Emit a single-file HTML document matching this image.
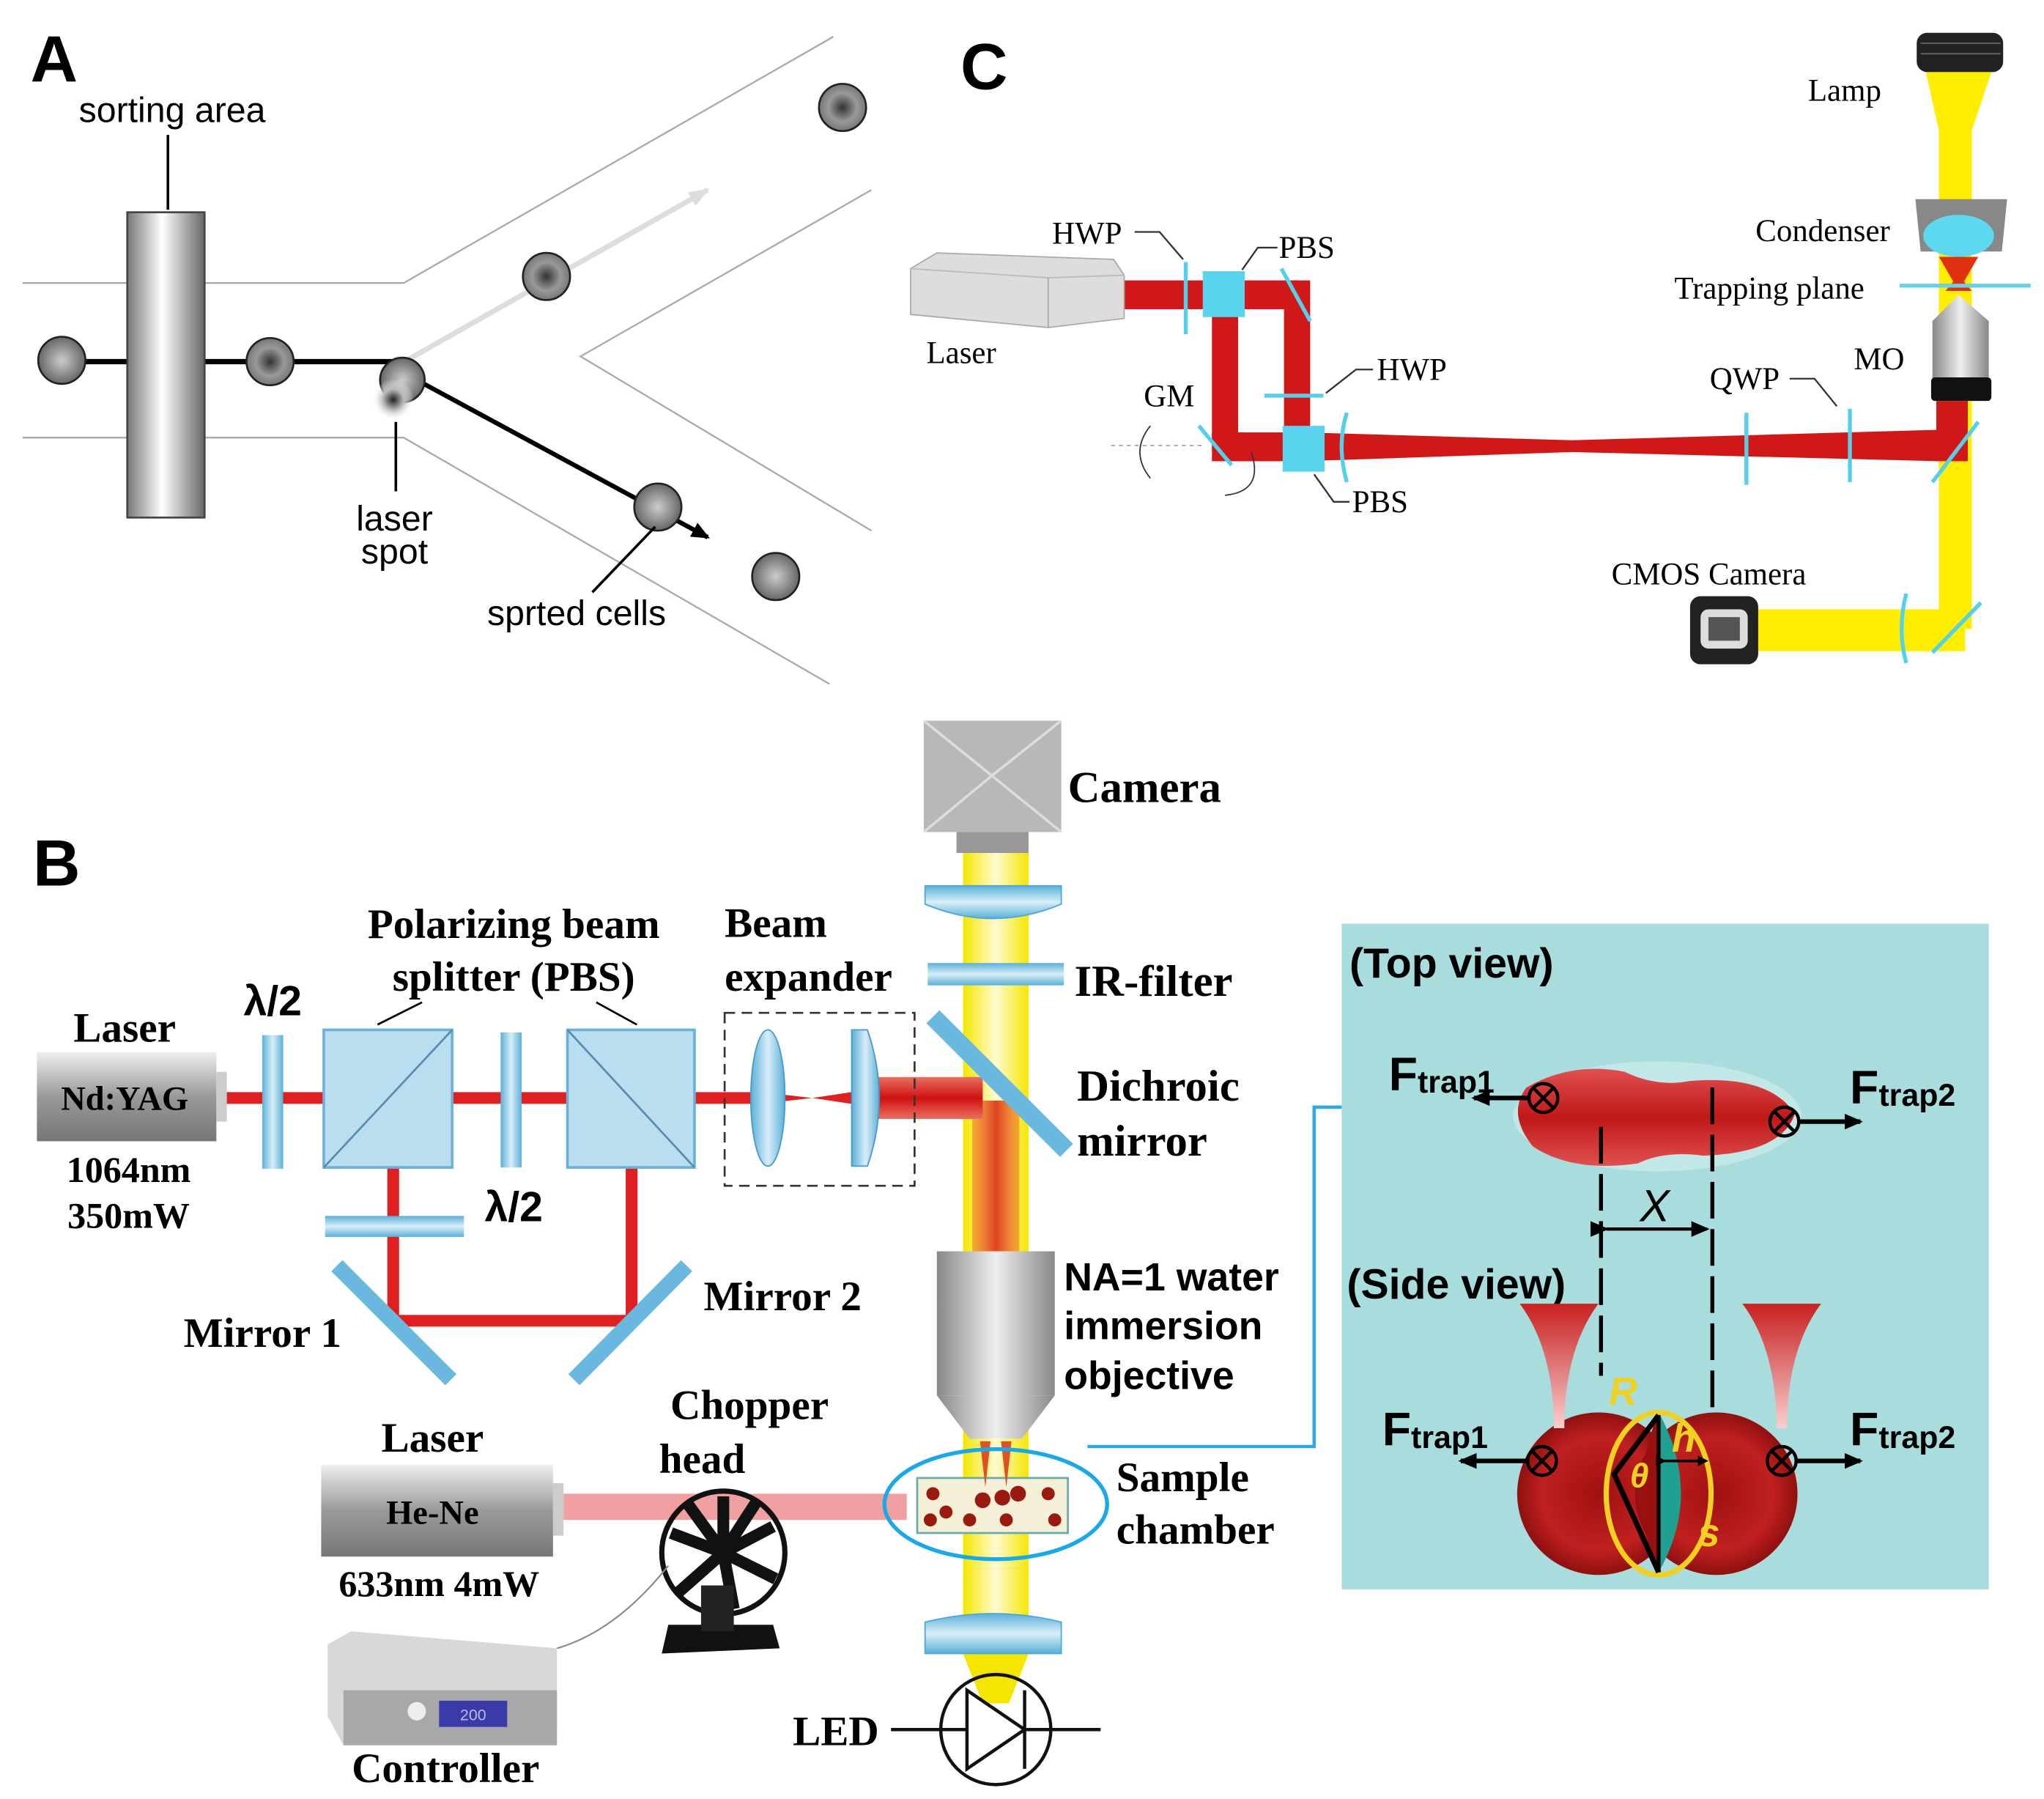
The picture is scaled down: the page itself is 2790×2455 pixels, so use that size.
<!DOCTYPE html>
<html><head><meta charset="utf-8"><style>
html,body{margin:0;padding:0;background:#fff}
svg{display:block}
.sa{font-family:"Liberation Sans",sans-serif}
.sf{font-family:"Liberation Serif",serif}
</style></head><body>
<svg width="2790" height="2455" viewBox="0 0 1560 1373" xmlns="http://www.w3.org/2000/svg">
<defs>
<linearGradient id="cyl" x1="0" x2="1"><stop offset="0" stop-color="#777"/><stop offset="0.45" stop-color="#fff"/><stop offset="1" stop-color="#666"/></linearGradient>
<radialGradient id="cell"><stop offset="0" stop-color="#333"/><stop offset="0.6" stop-color="#999"/><stop offset="1" stop-color="#777"/></radialGradient>
<radialGradient id="cell2"><stop offset="0" stop-color="#ccc"/><stop offset="1" stop-color="#666"/></radialGradient>
<radialGradient id="spot"><stop offset="0" stop-color="#222"/><stop offset="0.5" stop-color="#bbb"/><stop offset="1" stop-color="#fff" stop-opacity="0"/></radialGradient>
<linearGradient id="gbox" x1="0" y1="0" x2="0" y2="1"><stop offset="0" stop-color="#eee"/><stop offset="0.5" stop-color="#999"/><stop offset="1" stop-color="#777"/></linearGradient>
<linearGradient id="gobj" x1="0" x2="1"><stop offset="0" stop-color="#888"/><stop offset="0.5" stop-color="#eee"/><stop offset="1" stop-color="#888"/></linearGradient>
<linearGradient id="blu" x1="0" x2="1"><stop offset="0" stop-color="#5ab0d8"/><stop offset="0.5" stop-color="#d8eef8"/><stop offset="1" stop-color="#5ab0d8"/></linearGradient>
<linearGradient id="bluv" x1="0" y1="0" x2="0" y2="1"><stop offset="0" stop-color="#5ab0d8"/><stop offset="0.5" stop-color="#d8eef8"/><stop offset="1" stop-color="#5ab0d8"/></linearGradient>
<linearGradient id="yel" x1="0" x2="1"><stop offset="0" stop-color="#f5e600"/><stop offset="0.5" stop-color="#fffbd0"/><stop offset="1" stop-color="#f5e600"/></linearGradient>
<linearGradient id="org" x1="0" x2="1"><stop offset="0" stop-color="#f08020" stop-opacity=".6"/><stop offset="0.5" stop-color="#e04020"/><stop offset="1" stop-color="#f08020" stop-opacity=".6"/></linearGradient>
<linearGradient id="redh" x1="0" y1="0" x2="0" y2="1"><stop offset="0" stop-color="#e87060"/><stop offset="0.5" stop-color="#d01010"/><stop offset="1" stop-color="#e87060"/></linearGradient>
<linearGradient id="redc" x1="0" y1="0" x2="0" y2="1"><stop offset="0" stop-color="#e05050"/><stop offset="0.5" stop-color="#c01818"/><stop offset="1" stop-color="#e05050"/></linearGradient>
<linearGradient id="fun" x1="0" y1="0" x2="0" y2="1"><stop offset="0" stop-color="#c82020"/><stop offset="1" stop-color="#f8d0d0"/></linearGradient>
<radialGradient id="rbc"><stop offset="0" stop-color="#a01010"/><stop offset="0.7" stop-color="#c02020"/><stop offset="1" stop-color="#901010"/></radialGradient>
<marker id="ah" markerWidth="8" markerHeight="8" refX="6" refY="4" orient="auto" markerUnits="userSpaceOnUse"><path d="M0,0 L8,4 L0,8z" fill="#000"/></marker>
<marker id="ahb" markerWidth="14" markerHeight="12" refX="12" refY="6" orient="auto" markerUnits="userSpaceOnUse"><path d="M0,0 L14,6 L0,12z" fill="#000"/></marker>
<marker id="ahc" markerWidth="16" markerHeight="12" refX="14" refY="6" orient="auto" markerUnits="userSpaceOnUse"><path d="M0,0 L16,6 L0,12z" fill="#2aa8e8"/></marker>
<marker id="ahg" markerWidth="16" markerHeight="12" refX="14" refY="6" orient="auto" markerUnits="userSpaceOnUse"><path d="M0,0 L16,6 L0,12z" fill="#ddd"/></marker>
</defs>

<!-- ============ PANEL A ============ -->
<text x="23" y="62" class="sa" font-size="50" font-weight="bold">A</text>
<text x="60" y="93" class="sa" font-size="27">sorting area</text>
<line x1="128" y1="103" x2="128" y2="160" stroke="#000" stroke-width="2"/>
<g stroke="#aaa" stroke-width="1.3" fill="none">
<polyline points="17,216 308,216 636,28"/>
<polyline points="17,334 308,334 633,522"/>
<polyline points="665,145 443,272 665,405"/>
</g>
<line x1="305" y1="278" x2="540" y2="145" stroke="#ddd" stroke-width="4" marker-end="url(#ahg)"/>
<line x1="47" y1="276" x2="300" y2="276" stroke="#000" stroke-width="4"/>
<line x1="305" y1="283" x2="540" y2="410" stroke="#000" stroke-width="3.5" marker-end="url(#ahb)"/>
<rect x="97" y="162" width="59" height="233" fill="url(#cyl)" stroke="#444" stroke-width="1.5"/>
<circle cx="47" cy="275" r="18" fill="url(#cell2)" stroke="#222" stroke-width="1.5"/>
<circle cx="206" cy="276" r="18" fill="url(#cell)" stroke="#222" stroke-width="1.5"/>
<circle cx="417" cy="211" r="18" fill="url(#cell)" stroke="#222" stroke-width="1.5"/>
<circle cx="643" cy="82" r="18" fill="url(#cell)" stroke="#222" stroke-width="1.5"/>
<circle cx="502" cy="387" r="18" fill="url(#cell2)" stroke="#222" stroke-width="1.5"/>
<circle cx="592" cy="440" r="18" fill="url(#cell2)" stroke="#222" stroke-width="1.5"/>
<circle cx="307" cy="290" r="17" fill="url(#cell2)" stroke="#222" stroke-width="1.5"/>
<circle cx="300" cy="305" r="16" fill="url(#spot)"/>
<line x1="302" y1="322" x2="302" y2="375" stroke="#000" stroke-width="2"/>
<text x="301" y="405" class="sa" font-size="27" text-anchor="middle">laser</text>
<text x="301" y="430" class="sa" font-size="27" text-anchor="middle">spot</text>
<line x1="452" y1="452" x2="500" y2="402" stroke="#000" stroke-width="2"/>
<text x="440" y="477" class="sa" font-size="27" text-anchor="middle">sprted cells</text>

<!-- ============ PANEL C ============ -->
<text x="733" y="68" class="sa" font-size="50" font-weight="bold">C</text>
<rect x="1463" y="25" width="66" height="30" rx="8" fill="#222"/>
<line x1="1466" y1="33" x2="1527" y2="33" stroke="#666"/><line x1="1466" y1="41" x2="1527" y2="41" stroke="#666"/>
<path d="M1470,55 L1520,55 L1505,100 L1505,470 L1300,470 L1300,495 L1480,495 L1480,100 Z" fill="#ffee00"/>
<rect x="1480" y="60" width="25" height="420" fill="#ffee00"/>
<rect x="1300" y="465" width="200" height="32" fill="#ffee00"/>
<text x="1380" y="77" class="sf" font-size="24">Lamp</text>
<path d="M1462,152 L1532,152 L1528,192 L1466,192 Z" fill="#888"/>
<ellipse cx="1495" cy="180" rx="27" ry="16" fill="#5cd8f0"/>
<path d="M1480,196 L1510,196 L1495,222 Z" fill="#e03010"/>
<path d="M1485,222 L1505,222 L1495,210 Z" fill="#e03010"/>
<line x1="1450" y1="218" x2="1550" y2="218" stroke="#6ad0e8" stroke-width="3"/>
<text x="1340" y="184" class="sf" font-size="24">Condenser</text>
<text x="1278" y="228" class="sf" font-size="24">Trapping plane</text>
<path d="M1495,225 L1475,245 L1475,290 L1518,290 L1518,245 Z" fill="url(#gobj)"/>
<rect x="1474" y="288" width="46" height="18" rx="3" fill="#111"/>
<text x="1415" y="282" class="sf" font-size="24">MO</text>
<path d="M995,330 L1200,336 L1480,328 L1480,352 L1200,345 L995,352 Z" fill="#d01818"/>
<rect x="1478" y="306" width="24" height="46" fill="#d01818"/>
<rect x="850" y="214" width="140" height="22" fill="#d01818"/>
<rect x="980" y="214" width="20" height="130" fill="#d01818"/>
<rect x="925" y="230" width="20" height="112" fill="#d01818"/>
<rect x="925" y="330" width="70" height="22" fill="#d01818"/>
<path d="M695,205 L715,193 L850,198 L858,210 L858,243 L800,250 L695,240 Z" fill="#ddd" stroke="#aaa"/>
<path d="M695,205 L800,212 L858,210" fill="none" stroke="#bbb"/>
<line x1="800" y1="212" x2="800" y2="250" stroke="#aaa"/>
<text x="707" y="277" class="sf" font-size="24">Laser</text>
<g stroke="#55d0ea" stroke-width="3" fill="none">
<line x1="905" y1="200" x2="905" y2="255"/>
<line x1="978" y1="205" x2="1000" y2="245"/>
<line x1="965" y1="302" x2="1010" y2="302"/>
<path d="M1028,315 Q1020,340 1028,368"/>
<line x1="1333" y1="315" x2="1333" y2="370"/>
<line x1="1412" y1="312" x2="1412" y2="368"/>
<line x1="1475" y1="368" x2="1510" y2="322"/>
<line x1="1475" y1="498" x2="1512" y2="460"/>
<path d="M1455,453 Q1448,480 1455,506"/>
<line x1="915" y1="325" x2="940" y2="355"/>
</g>
<rect x="918" y="207" width="32" height="35" fill="#5ad4ee"/>
<rect x="979" y="325" width="32" height="35" fill="#5ad4ee"/>
<path d="M878,325 Q862,345 878,365" stroke="#333" fill="none"/>
<path d="M955,345 Q965,375 935,378" stroke="#333" fill="none"/>
<line x1="848" y1="340" x2="920" y2="340" stroke="#aaa" stroke-dasharray="3,3"/>
<g class="sf" font-size="24">
<text x="803" y="186">HWP</text>
<text x="976" y="197">PBS</text>
<text x="1051" y="290">HWP</text>
<text x="873" y="310">GM</text>
<text x="1032" y="391">PBS</text>
<text x="1305" y="297">QWP</text>
<text x="1230" y="446">CMOS Camera</text>
</g>
<g stroke="#333" stroke-width="1.3" fill="none">
<polyline points="866,177 885,177 903,198"/>
<polyline points="975,189 960,189 948,206"/>
<polyline points="1048,282 1035,282 1012,300"/>
<polyline points="1030,383 1018,383 1003,362"/>
<polyline points="1366,289 1385,289 1402,310"/>
</g>
<rect x="1290" y="455" width="52" height="52" rx="8" fill="#222"/>
<rect x="1298" y="465" width="36" height="30" rx="6" fill="#ddd"/>
<rect x="1304" y="471" width="24" height="18" fill="#555"/>

<!-- ============ PANEL B ============ -->
<text x="25" y="676" class="sa" font-size="50" font-weight="bold">B</text>
<rect x="735" y="640" width="50" height="610" fill="url(#yel)"/>
<path d="M735,1262 L785,1262 L770,1300 L750,1300 Z" fill="#f5e600"/>
<rect x="742" y="840" width="36" height="115" fill="url(#org)"/>
<rect x="705" y="550" width="105" height="85" fill="#b8b8b8"/>
<path d="M705,550 L757,592 L810,550 M705,635 L757,592 L810,635" stroke="#ddd" stroke-width="2" fill="none"/>
<rect x="730" y="635" width="55" height="16" fill="#999"/>
<text x="815" y="612" class="sf" font-size="34" font-weight="bold">Camera</text>
<path d="M706,676 L810,676 L810,690 Q758,712 706,690 Z" fill="url(#bluv)" stroke="#4aa8d8"/>
<rect x="708" y="735" width="104" height="17" fill="url(#bluv)"/>
<text x="820" y="760" class="sf" font-size="34" font-weight="bold">IR-filter</text>
<line x1="170" y1="838" x2="580" y2="838" stroke="#e02020" stroke-width="9"/>
<path d="M585,834 L620,838 L660,832 L660,844 L620,838 L585,842Z" fill="#e02020"/>
<rect x="660" y="822" width="90" height="32" fill="url(#redh)"/>
<line x1="712" y1="776" x2="814" y2="878" stroke="#6ab8e0" stroke-width="14"/>
<text x="822" y="840" class="sf" font-size="34" font-weight="bold">Dichroic</text>
<text x="822" y="882" class="sf" font-size="34" font-weight="bold">mirror</text>
<rect x="28" y="803" width="137" height="68" fill="url(#gbox)"/>
<rect x="165" y="818" width="8" height="38" fill="#ccc"/>
<text x="95" y="847" class="sf" font-size="26" font-weight="bold" text-anchor="middle">Nd:YAG</text>
<text x="95" y="795" class="sf" font-size="32" font-weight="bold" text-anchor="middle">Laser</text>
<text x="98" y="902" class="sf" font-size="28" font-weight="bold" text-anchor="middle">1064nm</text>
<text x="98" y="937" class="sf" font-size="28" font-weight="bold" text-anchor="middle">350mW</text>
<rect x="200" y="790" width="16" height="102" fill="url(#blu)"/>
<text x="208" y="775" class="sa" font-size="32" font-weight="bold" text-anchor="middle">λ/2</text>
<rect x="382" y="788" width="16" height="103" fill="url(#blu)"/>
<polyline points="300,890 300,1008 482,1008 482,890" fill="none" stroke="#e02020" stroke-width="9"/>
<rect x="247" y="786" width="98" height="105" fill="#b8def0" stroke="#6ab0d8" stroke-width="2"/>
<line x1="247" y1="891" x2="345" y2="786" stroke="#5a8ab0" stroke-width="1.5"/>
<rect x="433" y="786" width="97" height="105" fill="#b8def0" stroke="#6ab0d8" stroke-width="2"/>
<line x1="433" y1="786" x2="530" y2="891" stroke="#5a8ab0" stroke-width="1.5"/>
<text x="392" y="716" class="sf" font-size="32" font-weight="bold" text-anchor="middle">Polarizing beam</text>
<text x="392" y="756" class="sf" font-size="32" font-weight="bold" text-anchor="middle">splitter (PBS)</text>
<line x1="288" y1="782" x2="322" y2="765" stroke="#000" stroke-width="1.5"/>
<line x1="486" y1="782" x2="455" y2="765" stroke="#000" stroke-width="1.5"/>
<rect x="248" y="928" width="106" height="16" fill="url(#bluv)"/>
<text x="392" y="932" class="sa" font-size="32" font-weight="bold" text-anchor="middle">λ/2</text>
<line x1="257" y1="966" x2="344" y2="1053" stroke="#6ab8e0" stroke-width="12"/>
<line x1="524" y1="966" x2="438" y2="1053" stroke="#6ab8e0" stroke-width="12"/>
<text x="140" y="1028" class="sf" font-size="32" font-weight="bold">Mirror 1</text>
<text x="537" y="1000" class="sf" font-size="32" font-weight="bold">Mirror 2</text>
<rect x="553" y="773" width="145" height="132" fill="none" stroke="#333" stroke-width="1.5" stroke-dasharray="8,5"/>
<ellipse cx="586" cy="838" rx="13" ry="52" fill="url(#blu)" stroke="#4a98c8"/>
<path d="M650,786 L662,786 Q680,838 662,890 L650,890 Z" fill="url(#blu)" stroke="#4a98c8"/>
<text x="553" y="715" class="sf" font-size="32" font-weight="bold">Beam</text>
<text x="553" y="756" class="sf" font-size="32" font-weight="bold">expander</text>
<rect x="715" y="955" width="90" height="110" fill="url(#gobj)"/>
<path d="M715,1065 L805,1065 L780,1098 L740,1098 Z" fill="url(#gobj)"/>
<text x="812" y="985" class="sa" font-size="30" font-weight="bold">NA=1 water</text>
<text x="812" y="1022" class="sa" font-size="30" font-weight="bold">immersion</text>
<text x="812" y="1060" class="sa" font-size="30" font-weight="bold">objective</text>
<rect x="430" y="1140" width="262" height="20" fill="#f0a0a0"/>
<rect x="245" y="1118" width="177" height="70" fill="url(#gbox)"/>
<rect x="422" y="1132" width="8" height="40" fill="#ccc"/>
<text x="330" y="1108" class="sf" font-size="32" font-weight="bold" text-anchor="middle">Laser</text>
<text x="330" y="1163" class="sf" font-size="26" font-weight="bold" text-anchor="middle">He-Ne</text>
<text x="335" y="1218" class="sf" font-size="28" font-weight="bold" text-anchor="middle">633nm 4mW</text>
<rect x="700" y="1128" width="115" height="42" fill="#f4f0d8" stroke="#6aa" stroke-width="1.5"/>
<path d="M748,1100 L752,1135 L756,1100 M764,1100 L768,1135 L772,1100" fill="#e05020"/>
<g fill="#9a1a10">
<circle cx="712" cy="1140" r="5"/><circle cx="722" cy="1154" r="5"/><circle cx="710" cy="1160" r="5"/>
<circle cx="750" cy="1145" r="6"/><circle cx="765" cy="1143" r="6"/><circle cx="777" cy="1140" r="6"/>
<circle cx="740" cy="1160" r="5"/><circle cx="768" cy="1160" r="5"/><circle cx="800" cy="1140" r="5"/><circle cx="805" cy="1160" r="5"/>
</g>
<ellipse cx="760" cy="1148" rx="85" ry="42" fill="none" stroke="#1aa8e8" stroke-width="3"/>
<text x="852" y="1138" class="sf" font-size="32" font-weight="bold">Sample</text>
<text x="852" y="1178" class="sf" font-size="32" font-weight="bold">chamber</text>
<polyline points="830,1104 1003,1104 1003,845 1085,845" fill="none" stroke="#2aa8e8" stroke-width="2.5" marker-end="url(#ahc)"/>
<path d="M706,1238 Q758,1225 810,1238 L810,1262 L706,1262 Z" fill="url(#bluv)" stroke="#4aa8d8"/>
<circle cx="760" cy="1320" r="42" fill="none" stroke="#111" stroke-width="2.5"/>
<path d="M738,1290 L738,1350 L782,1320 Z" fill="none" stroke="#111" stroke-width="2.5"/>
<line x1="782" y1="1290" x2="782" y2="1350" stroke="#111" stroke-width="2.5"/>
<line x1="680" y1="1320" x2="738" y2="1320" stroke="#111" stroke-width="2.5"/>
<line x1="782" y1="1320" x2="840" y2="1320" stroke="#111" stroke-width="2.5"/>
<text x="605" y="1332" class="sf" font-size="32" font-weight="bold">LED</text>
<circle cx="552" cy="1185" r="47" fill="none" stroke="#111" stroke-width="4"/>
<g stroke="#111" stroke-width="9">
<line x1="552" y1="1185" x2="552" y2="1142"/><line x1="552" y1="1185" x2="590" y2="1165"/><line x1="552" y1="1185" x2="592" y2="1205"/>
<line x1="552" y1="1185" x2="560" y2="1228"/><line x1="552" y1="1185" x2="518" y2="1215"/><line x1="552" y1="1185" x2="512" y2="1170"/>
<line x1="552" y1="1185" x2="525" y2="1148"/><line x1="552" y1="1185" x2="578" y2="1145"/>
</g>
<path d="M510,1240 L590,1240 L595,1258 L505,1262 Z" fill="#111"/>
<rect x="535" y="1210" width="25" height="35" fill="#222"/>
<path d="M425,1258 Q470,1245 510,1195" fill="none" stroke="#888" stroke-width="1.2"/>
<text x="572" y="1083" class="sf" font-size="32" font-weight="bold" text-anchor="middle">Chopper</text>
<text x="503" y="1124" class="sf" font-size="32" font-weight="bold">head</text>
<path d="M250,1255 L268,1245 L425,1258 L425,1320 L262,1332 L250,1310 Z" fill="#d8d8d8"/>
<rect x="262" y="1290" width="163" height="42" fill="#a8a8a8"/>
<rect x="335" y="1298" width="52" height="20" fill="#3a3aa8"/>
<text x="361" y="1313" class="sa" font-size="12" fill="#bbd" text-anchor="middle">200</text>
<circle cx="318" cy="1306" r="7" fill="#eee"/>
<text x="340" y="1360" class="sf" font-size="32" font-weight="bold" text-anchor="middle">Controller</text>

<!-- ============ RIGHT PANEL ============ -->
<rect x="1024" y="705" width="494" height="508" fill="#a9dcdc"/>
<text x="1030" y="746" class="sa" font-size="32" font-weight="bold">(Top view)</text>
<ellipse cx="1265" cy="852" rx="110" ry="42" fill="#c8eaea" opacity=".8"/>
<path d="M1165,830 Q1200,810 1240,818 Q1265,830 1290,825 Q1350,820 1370,850 Q1360,880 1300,882 Q1270,878 1250,888 Q1200,895 1170,875 Q1150,850 1165,830 Z" fill="url(#redc)"/>
<g stroke="#000" stroke-width="3">
<line x1="1222" y1="860" x2="1222" y2="1050" stroke-dasharray="28,8"/>
<line x1="1307" y1="830" x2="1307" y2="1080" stroke-dasharray="28,8"/>
</g>
<line x1="1226" y1="938" x2="1303" y2="938" stroke="#000" stroke-width="2.5" marker-start="url(#ahb)" marker-end="url(#ahb)"/>
<text x="1263" y="932" class="sa" font-size="34" text-anchor="middle" font-style="italic">X</text>
<g stroke="#000" stroke-width="2.5" fill="none">
<circle cx="1178" cy="838" r="11"/><path d="M1170,830 L1186,846 M1186,830 L1170,846"/>
<circle cx="1362" cy="856" r="11"/><path d="M1354,848 L1370,864 M1370,848 L1354,864"/>
</g>
<line x1="1167" y1="838" x2="1125" y2="838" stroke="#000" stroke-width="3.5" marker-end="url(#ahb)"/>
<line x1="1373" y1="856" x2="1420" y2="856" stroke="#000" stroke-width="3.5" marker-end="url(#ahb)"/>
<text x="1060" y="832" class="sa" font-size="36" font-weight="bold">F<tspan font-size="24" dy="2">trap1</tspan></text>
<text x="1412" y="842" class="sa" font-size="36" font-weight="bold">F<tspan font-size="24" dy="2">trap2</tspan></text>
<text x="1028" y="991" class="sa" font-size="32" font-weight="bold">(Side view)</text>
<circle cx="1220" cy="1140" r="62" fill="url(#rbc)"/>
<circle cx="1310" cy="1140" r="62" fill="url(#rbc)"/>
<path d="M1266,1078 Q1240,1140 1266,1200 Z" fill="#9a1010"/>
<path d="M1266,1078 Q1300,1140 1266,1200 Z" fill="#20a090"/>
<ellipse cx="1266" cy="1140" rx="40" ry="62" fill="none" stroke="#f0d020" stroke-width="4"/>
<polyline points="1266,1080 1232,1125 1266,1200" fill="none" stroke="#000" stroke-width="4"/>
<line x1="1266" y1="1080" x2="1266" y2="1200" stroke="#000" stroke-width="3"/>
<line x1="1270" y1="1115" x2="1302" y2="1115" stroke="#000" stroke-width="2" marker-start="url(#ah)" marker-end="url(#ah)"/>
<text x="1228" y="1072" class="sa" font-size="30" font-weight="bold" font-style="italic" fill="#f0d020">R</text>
<text x="1244" y="1135" class="sa" font-size="26" font-weight="bold" font-style="italic" fill="#f0d020">θ</text>
<text x="1276" y="1108" class="sa" font-size="30" font-weight="bold" font-style="italic" fill="#f0d020">h</text>
<text x="1296" y="1180" class="sa" font-size="30" font-weight="bold" font-style="italic" fill="#f0d020">s</text>
<path d="M1160,995 L1220,995 Q1194,1030 1194,1090 L1186,1090 Q1186,1030 1160,995 Z" fill="url(#fun)"/>
<path d="M1330,995 L1390,995 Q1364,1030 1364,1090 L1356,1090 Q1356,1030 1330,995 Z" fill="url(#fun)"/>
<g stroke="#000" stroke-width="2.5" fill="none">
<circle cx="1177" cy="1115" r="11"/><path d="M1169,1107 L1185,1123 M1185,1107 L1169,1123"/>
<circle cx="1360" cy="1115" r="11"/><path d="M1352,1107 L1368,1123 M1368,1107 L1352,1123"/>
</g>
<line x1="1166" y1="1115" x2="1115" y2="1115" stroke="#000" stroke-width="3.5" marker-end="url(#ahb)"/>
<line x1="1371" y1="1115" x2="1420" y2="1115" stroke="#000" stroke-width="3.5" marker-end="url(#ahb)"/>
<text x="1055" y="1103" class="sa" font-size="36" font-weight="bold">F<tspan font-size="24" dy="2">trap1</tspan></text>
<text x="1412" y="1103" class="sa" font-size="36" font-weight="bold">F<tspan font-size="24" dy="2">trap2</tspan></text>
</svg>
</body></html>
